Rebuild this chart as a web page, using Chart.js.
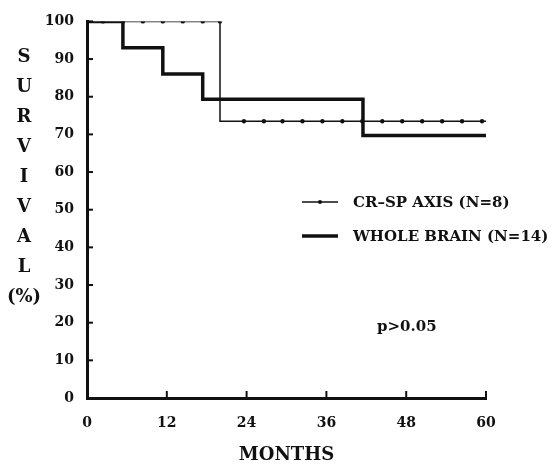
<!DOCTYPE html>
<html>
<head>
<meta charset="utf-8">
<script src="https://cdn.jsdelivr.net/npm/chart.js@4.4.0/dist/chart.umd.min.js"></script>
<style>
html, body { margin: 0; padding: 0; background: #fff; }
#wrap { width: 552px; height: 466px; }
</style>
</head>
<body>
<div id="wrap"><canvas id="km"></canvas></div>
<script>
// values
var monthTicks = [0, 12, 24, 36, 48, 60];
var crspMonths = [0, 20, 60];
var crspSurvival = [100, 73.5, 73.5];
var wholeMonths = [0, 5.4, 11.4, 17.4, 41.5, 60];
var wholeSurvival = [100, 93, 86, 79.3, 69.7, 69.7];
var crspDotMonths = [2.4, 5.4, 8.4, 11.4, 14.4, 17.4, 20, 23.6, 26.6, 29.4, 32.4, 35.4, 38.4, 41.4, 44.4, 47.4, 50.4, 53.4, 56.4, 59.4];
var crspDotSurvival = [100, 100, 100, 100, 100, 100, 100, 73.5, 73.5, 73.5, 73.5, 73.5, 73.5, 73.5, 73.5, 73.5, 73.5, 73.5, 73.5, 73.5];
var yTitle = ['S', 'U', 'R', 'V', 'I', 'V', 'A', 'L', '(%)'];
var legendLabels = ['CR\u2013SP AXIS (N=8)', 'WHOLE BRAIN (N=14)'];
var pText = 'p>0.05';

var serif = '"DejaVu Serif", "Liberation Serif", serif';

function pts(xs, ys) {
    return xs.map(function(x, i) { return { x: x, y: ys[i] }; });
}

// inward tick marks, stacked y title, legend and p value
var decor = {
    id: 'decor',
    afterDraw: function(chart) {
        var c = chart.ctx, xs = chart.scales.x, ys = chart.scales.y;
        c.save();
        c.strokeStyle = '#111';
        c.lineWidth = 2;
        monthTicks.forEach(function(m) {
            if (m === 0) return;
            var px = xs.getPixelForValue(m);
            c.beginPath(); c.moveTo(px, ys.bottom); c.lineTo(px, ys.bottom - 7); c.stroke();
        });
        ys.ticks.forEach(function(t) {
            var py = ys.getPixelForValue(t.value);
            c.beginPath(); c.moveTo(xs.left, py); c.lineTo(xs.left + 6, py); c.stroke();
        });

        c.fillStyle = '#111';
        c.textAlign = 'center';
        c.textBaseline = 'middle';
        c.font = 'bold 18px ' + serif;
        yTitle.forEach(function(s, i) { c.fillText(s, 24, 57 + i * 30); });

        // legend
        c.lineWidth = 1.5;
        c.beginPath(); c.moveTo(302, 202); c.lineTo(338, 202); c.stroke();
        c.beginPath(); c.arc(320, 202, 2, 0, Math.PI * 2); c.fill();
        c.lineWidth = 3.5;
        c.beginPath(); c.moveTo(302, 236); c.lineTo(338, 236); c.stroke();
        c.textAlign = 'left';
        c.font = 'bold 15px ' + serif;
        c.fillText(legendLabels[0], 353, 203);
        c.fillText(legendLabels[1], 353, 237);
        c.fillText(pText, 377, 327);
        c.restore();
    }
};

var ctx = document.getElementById('km');
var km = new Chart(ctx, {
    type: 'scatter',
    data: {
        datasets: [{
            label: legendLabels[1],
            data: pts(wholeMonths, wholeSurvival),
            showLine: true,
            stepped: true,
            borderColor: '#111',
            borderWidth: 3.5,
            pointRadius: 0
        }, {
            label: legendLabels[0],
            data: pts(crspMonths, crspSurvival),
            showLine: true,
            stepped: true,
            borderColor: '#111',
            borderWidth: 1.5,
            pointRadius: 0
        }, {
            label: 'dots',
            data: pts(crspDotMonths, crspDotSurvival),
            showLine: false,
            backgroundColor: '#111',
            borderWidth: 0,
            pointRadius: 2.2
        }]
    },
    options: {
        responsive: true,
        maintainAspectRatio: false,
        animation: false,
        layout: { padding: { left: 0, top: 18, right: 66, bottom: 0 } },
        plugins: {
            legend: { display: false },
            tooltip: { enabled: false }
        },
        scales: {
            x: {
                type: 'linear',
                min: 0,
                max: 60,
                afterBuildTicks: function(s) { s.ticks = monthTicks.map(function(v) { return { value: v }; }); },
                afterFit: function(s) { s.height = 68; },
                grid: { display: false, drawTicks: false },
                border: { display: true, color: '#111', width: 3 },
                ticks: { padding: 17, color: '#111', font: { family: serif, size: 14, weight: 'bold' } },
                title: { display: true, text: 'MONTHS', color: '#111', padding: { top: 0, bottom: 0 }, font: { family: serif, size: 18, weight: 'bold' } }
            },
            y: {
                min: 0,
                max: 100,
                afterFit: function(s) { s.width = 87; },
                grid: { display: false, drawTicks: false },
                border: { display: true, color: '#111', width: 3 },
                ticks: { stepSize: 10, padding: 13, color: '#111', font: { family: serif, size: 14, weight: 'bold' } }
            }
        }
    },
    plugins: [decor]
});
</script>
</body>
</html>
